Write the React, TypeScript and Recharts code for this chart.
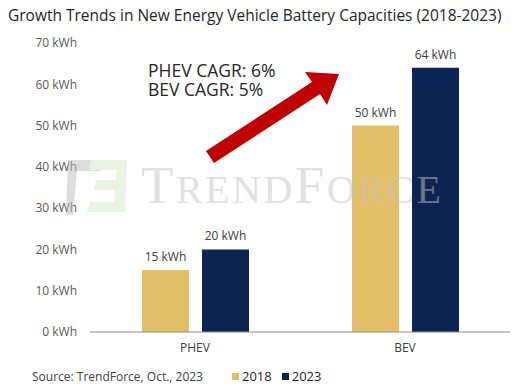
import { BarChart, Bar, XAxis, YAxis, LabelList } from "recharts";

const categories = ["PHEV", "BEV"];
const values2018 = [15, 50];
const values2023 = [20, 64];
const yTicks = [0, 10, 20, 30, 40, 50, 60, 70];

const data = categories.map((name, i) => ({
  name,
  y2018: values2018[i],
  y2023: values2023[i],
}));

const GOLD = "#E4BF69";
const NAVY = "#0C2452";
const FONT = "'Open Sans', sans-serif";

const kwh = (v: any) => `${v} kWh`;

// label above each bar, kept on one line
const topLabel = (props: any) => {
  const { x, y, width, value } = props;
  return (
    <text
      x={x + width / 2}
      y={y - 9}
      textAnchor="middle"
      fill="#404040"
      fontSize={12}
      fontFamily={FONT}
    >
      {kwh(value)}
    </text>
  );
};

function LegendBox() {
  const item = (color: string, label: string) => (
    <span style={{ display: "inline-flex", alignItems: "center", marginRight: 10 }}>
      <span style={{ width: 7, height: 7, background: color, marginRight: 3, display: "inline-block" }} />
      {label}
    </span>
  );
  return (
    <div
      style={{
        position: "absolute",
        left: 232,
        top: 367,
        fontSize: 13,
        color: "#262626",
        display: "flex",
      }}
    >
      {item(GOLD, "2018")}
      {item(NAVY, "2023")}
    </div>
  );
}

export default function App() {
  return (
    <div
      style={{
        position: "absolute",
        left: 0,
        top: 0,
        width: 515,
        height: 388,
        background: "#fff",
        fontFamily: FONT,
        overflow: "hidden",
      }}
    >
      <div
        style={{
          position: "absolute",
          left: 8,
          top: 4,
          fontSize: 15.5,
          color: "#262626",
          whiteSpace: "nowrap",
        }}
      >
        Growth Trends in New Energy Vehicle Battery Capacities (2018-2023)
      </div>

      <BarChart
        width={515}
        height={388}
        data={data}
        margin={{ top: 43, right: 5, bottom: 26, left: 0 }}
        barCategoryGap={52}
        barGap={13}
      >
        <XAxis
          dataKey="name"
          height={30}
          axisLine={{ stroke: "#8c8c8c" }}
          tickLine={false}
          tickSize={0}
          tickMargin={11}
          tick={{ fill: "#404040", fontSize: 12, fontFamily: FONT }}
        />
        <YAxis
          width={90}
          domain={[0, 70]}
          ticks={yTicks}
          axisLine={false}
          tickLine={false}
          tickSize={0}
          tickMargin={13}
          tickFormatter={kwh}
          tick={{ fill: "#595959", fontSize: 12, fontFamily: FONT }}
        />
        <Bar dataKey="y2018" name="2018" fill={GOLD} isAnimationActive={false}>
          <LabelList dataKey="y2018" content={topLabel} />
        </Bar>
        <Bar dataKey="y2023" name="2023" fill={NAVY} isAnimationActive={false}>
          <LabelList dataKey="y2023" content={topLabel} />
        </Bar>
      </BarChart>

      <svg
        width={515}
        height={388}
        style={{ position: "absolute", left: 0, top: 0, pointerEvents: "none" }}
      >
        {/* watermark */}
        <g opacity={0.5}>
          <polygon points="68,160 106,160 101,171 77,171 73,215 66,215" fill="#bdbdbd" />
          <polygon points="91,160 127,160 125,212 87,212 90,202 114,202 115,190 94,190 96,180 116,180 117,170 89,170" fill="#d6e6c4" />
          <text x={141} y={203} fill="#c4c4c4" fontFamily="'Liberation Serif', serif" fontSize={53} letterSpacing={2.5}>
            T<tspan fontSize={40}>REND</tspan>F<tspan fontSize={40}>ORCE</tspan>
          </text>
        </g>

        {/* arrow */}
        <polygon points="214,163 206,151 312,82 305,72 339,74 327,105 320,94" fill="#C00000" />

        <text fill="#262626" fontFamily={FONT} fontSize={17.5}>
          <tspan x={148} y={77}>PHEV CAGR: 6%</tspan>
          <tspan x={148} y={96}>BEV CAGR: 5%</tspan>
        </text>
      </svg>

      <LegendBox />

      <div
        style={{
          position: "absolute",
          left: 32,
          top: 368,
          fontSize: 12,
          color: "#404040",
          whiteSpace: "nowrap",
        }}
      >
        Source: TrendForce, Oct., 2023
      </div>
    </div>
  );
}
